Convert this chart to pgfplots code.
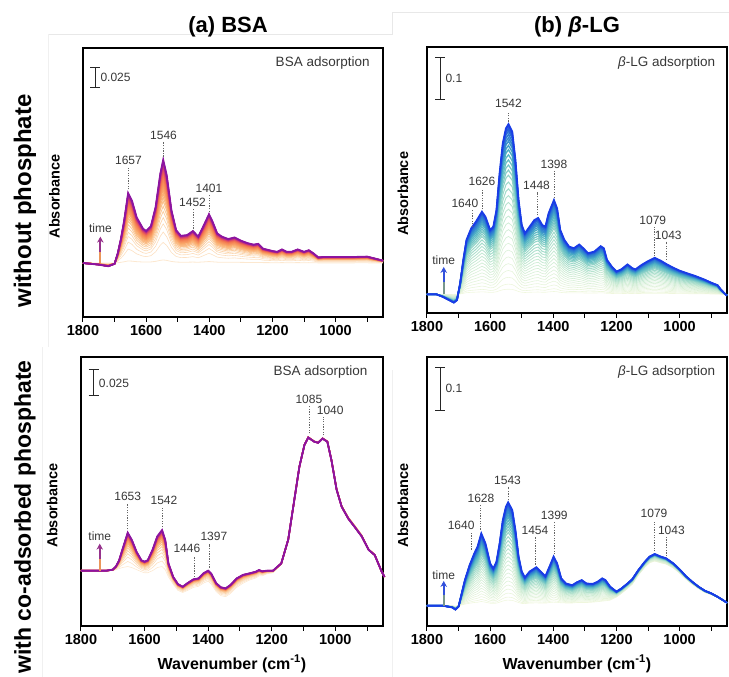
\documentclass[border=0pt]{standalone}
\usepackage{pgfplots}
\pgfplotsset{compat=1.18}
\usepackage{pgfplotstable}
\usepackage{fontspec}
\setmainfont{Liberation Sans}
\usetikzlibrary{arrows.meta}

% ---------- data ----------
\pgfplotstableread{
wn fin
1800 0
1750 -0.002
1720 -0.004
1700 -0.001
1690 0.012
1680 0.030
1670 0.052
1657 0.0875
1645 0.078
1630 0.057
1610 0.043
1600 0.040
1585 0.046
1570 0.070
1555 0.112
1546 0.129
1535 0.110
1520 0.066
1505 0.041
1490 0.034
1470 0.035
1452 0.040
1435 0.033
1420 0.045
1401 0.061
1390 0.052
1375 0.037
1360 0.033
1340 0.030
1320 0.032
1300 0.028
1280 0.025
1260 0.023
1245 0.024
1230 0.018
1200 0.015
1185 0.014
1170 0.017
1155 0.014
1140 0.014
1120 0.017
1100 0.014
1085 0.016
1070 0.012
1055 0.007
1040 0.0075
1000 0.0075
950 0.0075
900 0.008
860 0.004
850 0.003
}\tabA

\pgfplotstableread{
wn fin
1800 0
1770 0
1750 -0.006
1730 -0.014
1715 -0.020
1705 -0.014
1695 0.027
1685 0.083
1675 0.131
1660 0.159
1645 0.175
1626 0.199
1615 0.187
1600 0.155
1590 0.163
1580 0.203
1570 0.292
1560 0.364
1550 0.400
1542 0.410
1530 0.392
1520 0.324
1510 0.227
1500 0.167
1490 0.147
1475 0.163
1460 0.179
1448 0.184
1435 0.167
1425 0.163
1415 0.195
1398 0.227
1388 0.207
1378 0.155
1365 0.131
1350 0.115
1335 0.111
1318 0.120
1305 0.111
1290 0.099
1270 0.103
1250 0.116
1240 0.111
1230 0.083
1215 0.067
1200 0.055
1185 0.060
1165 0.072
1150 0.063
1140 0.060
1120 0.071
1100 0.080
1079 0.088
1060 0.081
1040 0.072
1020 0.064
1000 0.057
970 0.049
950 0.044
920 0.035
900 0.028
880 0.022
870 0.012
855 0.000
850 -0.003
}\tabB

\pgfplotstableread{
wn fin ini
1800 0 0
1750 0 0
1720 0 0
1700 0.001 0
1690 0.004 0.001
1680 0.010 0.002
1670 0.020 0.003
1653 0.0365 0.004
1640 0.0295 0.003
1625 0.018 0.001
1610 0.010 -0.001
1600 0.0087 -0.002
1590 0.010 -0.002
1575 0.020 0.000
1560 0.033 0.003
1545 0.039 0.004
1535 0.0295 0.001
1525 0.007 -0.006
1510 -0.006 -0.013
1495 -0.013 -0.019
1480 -0.0154 -0.021
1465 -0.012 -0.019
1446 -0.0083 -0.016
1430 -0.0074 -0.015
1415 -0.0026 -0.012
1400 0.000 -0.010
1390 -0.003 -0.013
1375 -0.012 -0.020
1360 -0.016 -0.024
1345 -0.017 -0.025
1330 -0.0138 -0.022
1310 -0.0074 -0.016
1290 -0.004 -0.012
1270 -0.0026 -0.009
1250 -0.001 -0.007
1240 0.0006 -0.005
1230 -0.0006 -0.005
1215 0.000 -0.003
1196 0.000 -0.002
1170 0.007 0.006
1148 0.030 0.030
1129 0.068 0.068
1113 0.100 0.100
1097 0.121 0.121
1085 0.128 0.129
1066 0.124 0.125
1054 0.123 0.124
1040 0.127 0.128
1025 0.124 0.125
1012 0.106 0.107
996 0.078 0.080
980 0.0615 0.063
959 0.050 0.052
939 0.042 0.044
917 0.033 0.035
895 0.020 0.021
876 0.015 0.016
854 -0.001 -0.001
845 -0.006 -0.006
}\tabC

\pgfplotstableread{
wn fin ini
1800 0 0
1750 0 0
1720 -0.004 0
1710 -0.009 -0.001
1700 -0.002 0
1690 0.029 0.001
1680 0.060 0.002
1665 0.095 0.003
1650 0.1226 0.004
1640 0.138 0.004
1628 0.169 0.005
1615 0.146 0.004
1600 0.099 0.003
1590 0.087 0.003
1580 0.103 0.003
1570 0.146 0.004
1560 0.200 0.005
1550 0.232 0.006
1543 0.242 0.006
1530 0.224 0.006
1520 0.177 0.005
1510 0.115 0.004
1500 0.080 0.003
1490 0.066 0.003
1475 0.080 0.004
1454 0.090 0.004
1440 0.080 0.004
1425 0.069 0.004
1410 0.095 0.005
1399 0.115 0.005
1388 0.099 0.005
1375 0.064 0.005
1360 0.052 0.005
1340 0.048 0.005
1325 0.055 0.006
1310 0.060 0.006
1295 0.052 0.006
1275 0.051 0.007
1260 0.056 0.008
1245 0.064 0.009
1235 0.060 0.010
1220 0.0445 0.012
1200 0.033 0.020
1185 0.040 0.028
1165 0.052 0.040
1150 0.062 0.050
1130 0.084 0.072
1110 0.103 0.090
1095 0.115 0.100
1079 0.121 0.104
1060 0.115 0.100
1043 0.111 0.097
1020 0.099 0.088
1000 0.085 0.076
980 0.069 0.062
960 0.056 0.050
940 0.0445 0.040
920 0.035 0.031
900 0.029 0.026
880 0.021 0.019
860 0.0117 0.011
850 0.007 0.006
}\tabD

\definecolor{topA}{RGB}{140,20,160}
\definecolor{topB}{RGB}{25,60,230}
\definecolor{labc}{RGB}{55,55,55}
\definecolor{arAlo}{RGB}{235,150,90}
\definecolor{arAhi}{RGB}{150,50,140}
\definecolor{arBlo}{RGB}{120,150,140}
\definecolor{arBhi}{RGB}{50,80,220}

\tikzset{
  annot/.style={dash pattern=on 1.3pt off 1.3pt, gray!80!black, line width=0.7pt},
  lab/.style={font=\fontsize{12}{14}\selectfont, text=labc, inner sep=0pt},
  sb/.style={line width=1pt, black!85},
}

\pgfplotsset{
  spec/.style={
    scale only axis, anchor=south west,
    x dir=reverse, xmin=850, xmax=1800,
    xtick={1000,1200,1400,1600,1800},
    xticklabels={1000,1200,1400,1600,1800},
    minor xtick={900,1100,1300,1500,1700},
    xtick pos=bottom, xtick align=outside,
    ytick=\empty,
    major tick length=5pt, minor tick length=5pt,
    every tick/.style={black, line width=1pt},
    axis line style={line width=1.2pt},
    tick label style={font=\bfseries\fontsize{14.5}{16}\selectfont},
    ylabel={Absorbance},
    ylabel style={font=\bfseries\fontsize{14.5}{16}\selectfont, at={(axis description cs:-0.095,0.448)}, anchor=center},
    clip=false,
  },
}

\newcommand{\pk}[6]{\draw[annot] (axis cs:#1,#2)--(axis cs:#1,#3); \node[lab] at (axis cs:#4,#5) {#6};}
\newcommand{\sbar}[6]{\draw[sb] (axis cs:#2,#4)--(axis cs:#3,#4) (axis cs:#1,#4)--(axis cs:#1,#5) (axis cs:#2,#5)--(axis cs:#3,#5); \node[lab, anchor=west] at (axis cs:#3,{(#4+#5)/2}) {#6};}
\newcommand{\tarrow}[6]{\draw[line width=1.8pt, #4] (axis cs:#1,0)--(axis cs:#1,#3); \draw[line width=1.8pt, #5, -{Stealth[length=6pt,width=6.5pt]}] (axis cs:#1,#3)--(axis cs:#1,#2); \node[lab] at (axis cs:#1,#6) {time};}

% fraction / R / G / B / width
\def\listA{0.03/252/232/208/0.8, 0.20/252/224/194/0.6, 0.30/252/220/187/0.6, 0.38/251/217/180/0.6, 0.44/251/213/173/0.7, 0.50/251/208/164/0.8, 0.55/251/203/155/0.9, 0.60/251/194/142/1.1, 0.64/250/185/130/1.2, 0.68/250/177/117/1.3, 0.72/250/168/105/1.4, 0.75/249/158/100/1.5, 0.78/247/148/94/1.5, 0.81/246/138/89/1.5, 0.84/244/128/83/1.5, 0.865/243/118/78/1.5, 0.89/236/103/87/1.5, 0.91/228/88/95/1.5, 0.93/221/73/104/1.5, 0.95/211/60/113/1.5, 0.965/193/51/125/1.5, 0.98/176/42/137/1.5, 0.99/163/35/146/1.5}
\def\listB{0.03/240/247/222/0.6, 0.06/237/246/221/0.6, 0.10/233/245/220/0.6, 0.14/230/244/219/0.6, 0.18/226/243/218/0.6, 0.22/223/242/217/0.6, 0.26/219/240/216/0.6, 0.30/216/239/215/0.6, 0.34/212/238/214/0.7, 0.38/209/237/213/0.7, 0.42/205/236/212/0.7, 0.46/198/233/211/0.8, 0.50/192/231/209/0.8, 0.54/183/227/207/0.9, 0.58/174/224/205/0.9, 0.62/165/220/203/1.0, 0.66/157/217/201/1.0, 0.70/147/212/200/1.1, 0.73/133/206/199/1.2, 0.76/119/199/198/1.2, 0.79/105/192/197/1.3, 0.82/91/185/196/1.3, 0.85/78/176/196/1.4, 0.875/68/162/200/1.4, 0.90/59/147/204/1.5, 0.92/52/136/207/1.5, 0.94/45/125/210/1.5, 0.96/41/109/214/1.5, 0.975/36/92/219/1.5, 0.99/33/81/222/1.5}
\def\listC{0/252/232/208/0.6, 0.15/252/226/197/0.6, 0.28/252/220/187/0.6, 0.38/251/215/176/0.7, 0.47/251/209/166/0.8, 0.55/251/203/155/0.9, 0.62/251/192/140/1.0, 0.68/250/182/125/1.1, 0.73/250/172/110/1.2, 0.78/249/158/100/1.3, 0.82/247/143/92/1.4, 0.86/244/128/83/1.5, 0.89/239/111/82/1.5, 0.92/228/88/95/1.5, 0.945/217/66/108/1.5, 0.965/198/53/122/1.5, 0.98/180/44/134/1.5, 0.99/163/35/146/1.5}

\begin{document}
\begin{tikzpicture}
\path[use as bounding box] (0,0) rectangle (729pt,677pt);

% faint frame artefacts
\draw[gray!18, line width=0.8pt] (48pt,643pt) -- (392pt,643pt) -- (392pt,665pt) -- (729pt,665pt);
\draw[gray!12, line width=0.8pt] (48pt,643pt) -- (48pt,330pt);
\draw[gray!12, line width=0.8pt] (42pt,330pt) -- (42pt,0pt);
\draw[gray!12, line width=0.8pt] (392pt,307pt) -- (392pt,0pt);

% ---------- (a) top left ----------
\begin{axis}[spec, at={(83pt,360pt)}, width=300pt, height=269pt,
  ymin=-0.0675, ymax=0.269]
\foreach \f/\r/\g/\b/\w in \listA {
  \edef\tmp{\noexpand\addplot[color={rgb,255:red,\r;green,\g;blue,\b}, line width=\w pt] table[x=wn, y expr=\noexpand\thisrow{fin}*\f]{\noexpand\tabA};}
  \tmp
}
\addplot[draw=topA, line width=1.8pt] table[x=wn, y=fin]{\tabA};
\pk{1657}{0.092}{0.119}{1656}{0.128}{1657}
\pk{1546}{0.133}{0.152}{1545}{0.160}{1546}
\pk{1452}{0.043}{0.068}{1453}{0.076}{1452}
\pk{1401}{0.064}{0.085}{1401}{0.093}{1401}
\sbar{1761}{1777}{1745}{0.2195}{0.2445}{0.025}
\tarrow{1745}{0.033}{0.014}{arAlo}{arAhi}{0.043}
\node[font=\fontsize{13.5}{15}\selectfont, text=labc, anchor=east] at (rel axis cs:0.967,0.944) {BSA adsorption};
\end{axis}

% ---------- (b) top right ----------
\begin{axis}[spec, at={(427pt,364pt)}, width=300pt, height=266pt,
  ymin=-0.045, ymax=0.596,
  ylabel style={at={(axis description cs:-0.08,0.448)}}]
\foreach \f/\r/\g/\b/\w in \listB {
  \edef\tmp{\noexpand\addplot[color={rgb,255:red,\r;green,\g;blue,\b}, line width=\w pt] table[x=wn, y expr=\noexpand\thisrow{fin}*\f]{\noexpand\tabB};}
  \tmp
}
\addplot[draw=topB, line width=1.8pt] table[x=wn, y=fin]{\tabB};
\pk{1657}{0.162}{0.203}{1680}{0.219}{1640}
\pk{1626}{0.205}{0.255}{1626}{0.271}{1626}
\pk{1542}{0.416}{0.440}{1542}{0.460}{1542}
\pk{1449}{0.190}{0.247}{1453}{0.263}{1448}
\pk{1398}{0.232}{0.296}{1398}{0.312}{1398}
\pk{1081}{0.092}{0.163}{1085}{0.178}{1079}
\pk{1043}{0.083}{0.127}{1036}{0.141}{1043}
\sbar{1758}{1774}{1742}{0.47}{0.57}{0.1}
\tarrow{1747}{0.066}{0.03}{arBlo}{arBhi}{0.083}
\node[font=\fontsize{13.5}{15}\selectfont, text=labc, anchor=east] at (rel axis cs:0.972,0.94) {\textit{β}-LG adsorption};
\end{axis}

% ---------- (c) bottom left ----------
\begin{axis}[spec, at={(81pt,51pt)}, width=302pt, height=269pt,
  ymin=-0.0532, ymax=0.2055,
  xlabel={Wavenumber (cm\textsuperscript{-1})},
  xlabel style={font=\bfseries\fontsize{16}{18}\selectfont, at={(axis description cs:0.5,-0.141)}, anchor=center}]
\foreach \f/\r/\g/\b/\w in \listC {
  \edef\tmp{\noexpand\addplot[color={rgb,255:red,\r;green,\g;blue,\b}, line width=\w pt] table[x=wn, y expr=\noexpand\thisrow{ini}+\f*(\noexpand\thisrow{fin}-\noexpand\thisrow{ini})]{\noexpand\tabC};}
  \tmp
}
\addplot[draw=topA, line width=1.8pt] table[x=wn, y=fin]{\tabC};
\pk{1653}{0.040}{0.064}{1653}{0.071}{1653}
\pk{1544}{0.042}{0.061}{1539}{0.068}{1542}
\pk{1444}{-0.006}{0.014}{1467}{0.021}{1446}
\pk{1396}{0.003}{0.026}{1382}{0.033}{1397}
\pk{1083}{0.132}{0.158}{1083}{0.165}{1085}
\pk{1037}{0.130}{0.148}{1016}{0.154}{1040}
\sbar{1760}{1776}{1744}{0.168}{0.193}{0.025}
\tarrow{1741}{0.026}{0.011}{arAlo}{arAhi}{0.033}
\node[font=\fontsize{13.5}{15}\selectfont, text=labc, anchor=east] at (rel axis cs:0.96,0.944) {BSA adsorption};
\end{axis}

% ---------- (d) bottom right ----------
\begin{axis}[spec, at={(427pt,51pt)}, width=300pt, height=269pt,
  ymin=-0.0475, ymax=0.5824,
  ylabel style={at={(axis description cs:-0.08,0.448)}},
  xlabel={Wavenumber (cm\textsuperscript{-1})},
  xlabel style={font=\bfseries\fontsize{16}{18}\selectfont, at={(axis description cs:0.5,-0.141)}, anchor=center}]
\foreach \f/\r/\g/\b/\w in \listB {
  \edef\tmp{\noexpand\addplot[color={rgb,255:red,\r;green,\g;blue,\b}, line width=\w pt] table[x=wn, y expr=\noexpand\thisrow{ini}+\f*(\noexpand\thisrow{fin}-\noexpand\thisrow{ini})]{\noexpand\tabD};}
  \tmp
}
\addplot[draw=topB, line width=1.8pt] table[x=wn, y=fin]{\tabD};
\pk{1660}{0.131}{0.173}{1692}{0.187}{1640}
\pk{1630}{0.178}{0.236}{1629}{0.251}{1628}
\pk{1543}{0.248}{0.279}{1545}{0.294}{1543}
\pk{1456}{0.096}{0.162}{1458}{0.177}{1454}
\pk{1398}{0.120}{0.197}{1397}{0.212}{1399}
\pk{1081}{0.127}{0.200}{1081}{0.216}{1079}
\pk{1042}{0.116}{0.162}{1026}{0.177}{1043}
\sbar{1758}{1774}{1742}{0.458}{0.558}{0.1}
\tarrow{1747}{0.058}{0.026}{arBlo}{arBhi}{0.072}
\node[font=\fontsize{13.5}{15}\selectfont, text=labc, anchor=east] at (rel axis cs:0.972,0.944) {\textit{β}-LG adsorption};
\end{axis}

% ---------- titles and row labels ----------
\node[font=\bfseries\fontsize{22}{26}\selectfont] at (228pt,650pt) {(a) BSA};
\node[font=\bfseries\fontsize{22}{26}\selectfont] at (577pt,650pt) {(b) \textit{β}-LG};
\node[rotate=90, font=\bfseries\fontsize{24}{28}\selectfont] at (25pt,476pt) {without phosphate};
\node[rotate=90, font=\bfseries\fontsize{23}{28}\selectfont] at (25pt,160pt) {with co-adsorbed phosphate};
\end{tikzpicture}
\end{document}
